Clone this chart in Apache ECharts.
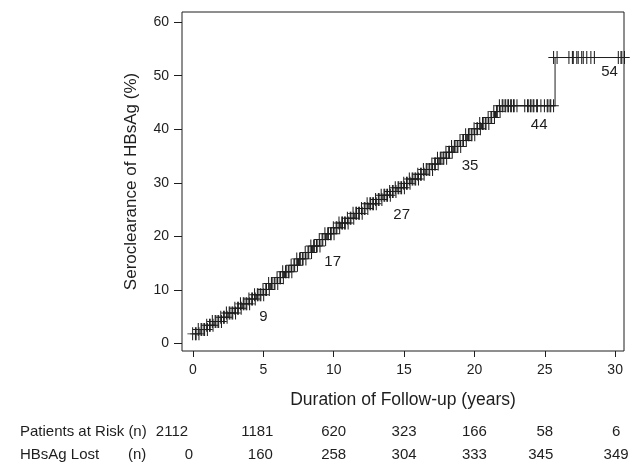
<!DOCTYPE html>
<html>
<head>
<meta charset="utf-8">
<script src="https://cdn.jsdelivr.net/npm/echarts@6/dist/echarts.min.js"></script>
<style>
html,body{margin:0;padding:0;background:#fff;}
#chart{width:644px;height:468px;}
</style>
</head>
<body>
<div id="chart"></div>
<script>
// ---- data ----
const xTicks = [0, 5, 10, 15, 20, 25, 30];
const yTicks = [0, 10, 20, 30, 40, 50, 60];

// Kaplan-Meier cumulative seroclearance (%)
const kmTimes = [0, 0.5, 1, 1.5, 2, 2.5, 3, 3.5, 4, 4.5, 5, 5.5, 6, 6.5, 7, 7.5, 8, 8.5, 9, 9.5,
  10, 10.5, 11, 11.5, 12, 12.5, 13, 13.5, 14, 14.5, 15, 15.5, 16, 16.5, 17, 17.5, 18, 18.5, 19, 19.5,
  20, 20.5, 21, 21.5, 21.8, 25.73, 30.55];
const kmPct = [1.8, 2.6, 3.4, 4.1, 4.9, 5.7, 6.6, 7.4, 8.3, 9.1, 10.1, 11.2, 12.3, 13.4, 14.6, 15.8, 17.0, 18.2, 19.4, 20.5,
  21.6, 22.5, 23.4, 24.3, 25.2, 26.1, 26.9, 27.7, 28.4, 29.1, 29.9, 30.7, 31.6, 32.5, 33.5, 34.6, 35.7, 36.8, 37.9, 39.0,
  40.1, 41.1, 42.2, 43.3, 44.4, 53.4, 53.4];

// censored observations (years)
const censorTimes = [0.1, 0.3, 0.5, 0.7, 0.9, 1.1, 1.3, 1.5, 1.7, 1.9, 2.1, 2.3, 2.5, 2.7, 2.9,
  3.1, 3.3, 3.5, 3.7, 3.9, 4.1, 4.3, 4.5, 4.7, 4.9, 5.1, 5.3, 5.5, 5.7, 5.9,
  6.1, 6.3, 6.5, 6.7, 6.9, 7.1, 7.3, 7.5, 7.7, 7.9, 8.1, 8.3, 8.5, 8.7, 8.9,
  9.1, 9.3, 9.5, 9.7, 9.9, 10.1, 10.3, 10.5, 10.7, 10.9, 11.1, 11.3, 11.5, 11.7, 11.9,
  12.1, 12.3, 12.5, 12.7, 12.9, 13.1, 13.3, 13.5, 13.7, 13.9, 14.1, 14.3, 14.5, 14.7, 14.9,
  15.1, 15.3, 15.5, 15.7, 15.9, 16.1, 16.3, 16.5, 16.7, 16.9, 17.1, 17.3, 17.5, 17.7, 17.9,
  18.1, 18.3, 18.5, 18.7, 18.9, 19.1, 19.3, 19.5, 19.7, 19.9, 20.1, 20.3, 20.5, 20.7, 20.9,
  21.1, 21.3, 21.5, 21.7, 21.9, 22.1, 22.3, 22.5, 22.7, 22.9, 23.7, 23.9, 24.1, 24.3, 24.6,
  25.1, 25.3, 25.5, 25.75, 26.84, 27.15, 27.5, 27.86, 28.4, 30.35, 30.54];

// rate annotations on the plot
const annotText = ['9', '17', '27', '35', '44', '54'];
const annotTimes = [5.0, 9.93, 14.83, 19.69, 24.6, 29.6];
const annotPos = [5.0, 15.25, 24.0, 33.1, 40.8, 50.65];

// number-at-risk table
const riskYears = [0, 5, 10, 15, 20, 25, 30];
const atRisk = [2112, 1181, 620, 323, 166, 58, 6];
const lostN = [0, 160, 258, 304, 333, 345, 349];

// ---- chart ----
const FONT = '"Liberation Sans", Arial, sans-serif';
const INK = '#1e1e1e';

function kmAt(t) {
  let v = kmPct[0];
  for (let i = 0; i < kmTimes.length; i++) {
    if (kmTimes[i] <= t) v = kmPct[i]; else break;
  }
  return v;
}

const kmData = kmTimes.map((t, i) => [t, kmPct[i]]);
const censorData = censorTimes.map(t => [t, kmAt(t)]);
const annotData = annotTimes.map((t, i) => [t, annotPos[i], annotText[i]]);

const chart = echarts.init(document.getElementById('chart'), null, {renderer: 'canvas'});

const option = {
  animation: false,
  backgroundColor: '#fff',
  textStyle: {fontFamily: FONT},
  grid: {left: 182, top: 12, width: 442, height: 339, show: true, borderColor: INK, borderWidth: 1, backgroundColor: 'transparent'},
  xAxis: {
    type: 'value', min: -0.78, max: 30.63,
    name: 'Duration of Follow-up (years)', nameLocation: 'middle', nameGap: 40,
    nameTextStyle: {fontSize: 17.5, color: INK, fontFamily: FONT},
    axisLine: {show: false, onZero: false},
    axisTick: {show: true, length: 6, customValues: xTicks, lineStyle: {color: INK}},
    axisLabel: {customValues: xTicks, fontSize: 14, color: INK, margin: 12, fontFamily: FONT},
    splitLine: {show: false}
  },
  yAxis: {
    type: 'value', min: -1.4, max: 61.9,
    name: 'Seroclearance of HBsAg (%)', nameLocation: 'middle', nameGap: 42, nameRotate: 90,
    nameTextStyle: {fontSize: 17, color: INK, fontFamily: FONT},
    axisLine: {show: false, onZero: false},
    axisTick: {show: true, length: 8, customValues: yTicks, lineStyle: {color: INK}},
    axisLabel: {customValues: yTicks, fontSize: 14, color: INK, margin: 13, fontFamily: FONT},
    splitLine: {show: false}
  },
  series: [
    {
      type: 'line', step: 'end', data: kmData, symbol: 'none',
      lineStyle: {color: INK, width: 1}, z: 2
    },
    {
      type: 'scatter', data: censorData,
      symbol: 'path://M0,5L12,5M4.5,0L4.5,10M7.5,0L7.5,10', symbolSize: [14, 13],
      itemStyle: {color: 'rgba(0,0,0,0)', borderColor: INK, borderWidth: 1, opacity: 1},
      z: 3
    },
    {
      type: 'scatter', data: annotData, symbolSize: 0,
      itemStyle: {opacity: 1},
      label: {show: true, position: 'inside', formatter: p => p.value[2], fontSize: 15, color: INK, fontFamily: FONT},
      z: 4
    }
  ]
};
chart.setOption(option);

// table below the plot, aligned with the x axis scale
const TFONT = '15px ' + FONT;
const rowY = [432, 455];
const row1Off = [-21, -6, 0, 0, 0, 0, 1];
const row2Off = [-4, -3, 0, 0, 0, -4, 1];
const elems = [
  {type: 'text', x: 20, y: rowY[0], style: {text: 'Patients at Risk (n)', font: TFONT, fill: INK, verticalAlign: 'middle'}},
  {type: 'text', x: 20, y: rowY[1], style: {text: 'HBsAg Lost', font: TFONT, fill: INK, verticalAlign: 'middle'}},
  {type: 'text', x: 128, y: rowY[1], style: {text: '(n)', font: TFONT, fill: INK, verticalAlign: 'middle'}}
];
riskYears.forEach((yr, i) => {
  const px = chart.convertToPixel({xAxisIndex: 0}, yr);
  elems.push({type: 'text', x: px + row1Off[i], y: rowY[0],
    style: {text: String(atRisk[i]), font: TFONT, fill: INK, align: 'center', verticalAlign: 'middle'}});
  elems.push({type: 'text', x: px + row2Off[i], y: rowY[1],
    style: {text: String(lostN[i]), font: TFONT, fill: INK, align: 'center', verticalAlign: 'middle'}});
});
chart.setOption({graphic: {elements: elems}});
</script>
</body>
</html>
